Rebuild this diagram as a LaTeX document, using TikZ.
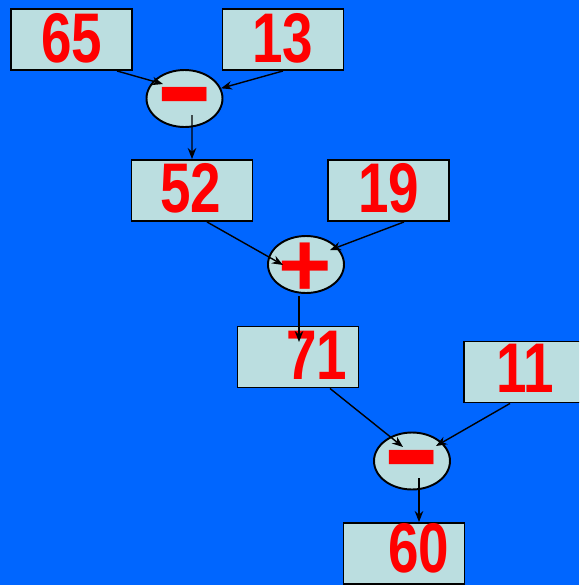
\documentclass[tikz,border=0pt]{standalone}
\usepackage{fontspec}
\setmainfont{Liberation Sans}
\usetikzlibrary{arrows.meta,calc,shapes.geometric}
\definecolor{bgblue}{RGB}{0,102,255}
\definecolor{boxfill}{RGB}{187,222,224}
\newcommand{\nm}[1]{\scalebox{0.78}[1]{#1}}
\begin{document}
\begin{tikzpicture}[>={Stealth[length=2.2mm,width=1.7mm]},x=0.02cm,y=-0.02cm]
\tikzstyle{box}=[draw,line width=1.1pt,fill=boxfill,minimum width=2.42cm,minimum height=1.22cm,inner sep=0pt]
\tikzstyle{op}=[draw,line width=1.1pt,ellipse,fill=boxfill,minimum width=1.52cm,minimum height=1.14cm,inner sep=0pt]
\tikzstyle{num}=[text=red,font=\fontsize{40}{40}\selectfont\bfseries,inner sep=0pt]
\tikzstyle{sign}=[text=red,font=\fontsize{40}{40}\selectfont\bfseries,inner sep=0pt]
\tikzstyle{arr}=[->,line width=0.8pt]
\fill[bgblue] (0,0) rectangle (579,585);
\clip (0,0) rectangle (579,585);
% first step: 65 - 13
\node[box] (b65) at (71.5,39.5) {}; \node[num] (t65) at (72,38) {\nm{65}};
\node[box] (b13) at (283,39.5) {}; \node[num] (t13) at (283,38) {\nm{13}};
\node[op] (opA) at (184.5,98.5) {}; \node[sign] (sA) at (184.5,106) {\scalebox{2.5}[1.7]{-}};
\draw[arr] ($(b65.south)+(45.5,0)$) -- ($(opA.center)+(-21.5,-14.5)$);
\draw[arr] (b13.south) -- (opA);
% second step: 52 + 19
\node[box] (b52) at (192,190.5) {}; \node[num] (t52) at (191,188) {\nm{52}};
\node[box] (b19) at (388.5,190.5) {}; \node[num] (t19) at (389,188) {\nm{19}};
\draw[arr] ($(opA.center)+(7.5,16.5)$) -- (b52.north);
\node[op] (opB) at (306,264.5) {}; \node[sign] (sB) at (305,270) {\scalebox{1.3}{+}};
\draw[arr] ($(b52.south)+(15,0)$) -- ($(opB.center)+(-23,0.5)$);
\draw[arr] ($(b19.south)+(15.5,0)$) -- ($(opB.center)+(24,-14.5)$);
% third step: 71 - 11
\node[box] (b71) at (298,357) {}; \node[num] (t71) at (316.5,355) {\nm{71}};
\node[box] (b11) at (524.5,372) {}; \node[num] (t11) at (525,368) {\nm{11}};
\draw[arr] ($(opB.center)+(-7,31.5)$) -- ($(b71.center)+(1,-15)$);
\node[op] (opC) at (412,461) {}; \node[sign] (sC) at (411.5,469) {\scalebox{2.5}[1.7]{-}};
\draw[arr] ($(b71.south)+(32,0)$) -- ($(opC.center)+(-9,-14)$);
\draw[arr] ($(b11.south)+(-14.5,0)$) -- ($(opC.center)+(24,-15)$);
% result
\node[box] (b60) at (404,553.5) {}; \node[num] (t60) at (419,548) {\nm{60}};
\draw[arr] ($(opC.center)+(7,17)$) -- ($(b60.north)+(15,0)$);
\end{tikzpicture}
\end{document}
